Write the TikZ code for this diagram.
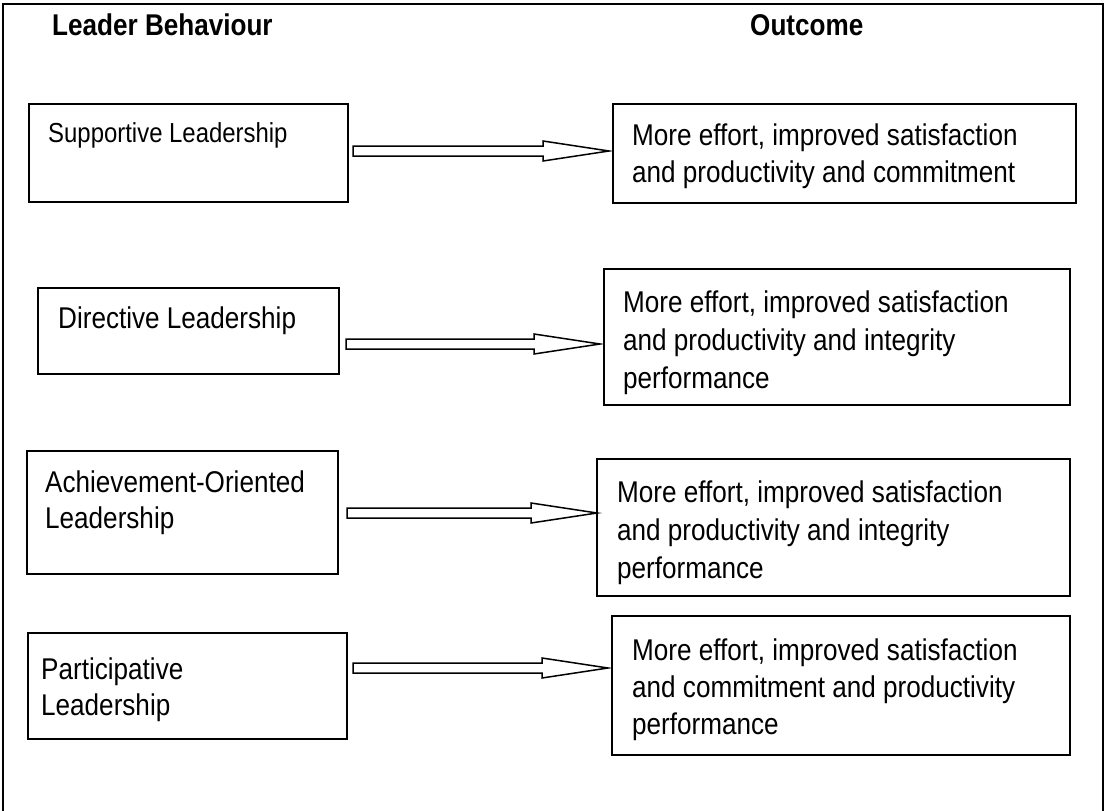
\documentclass[tikz,border=0pt]{standalone}
\usepackage{fontspec}
\setmainfont{Liberation Sans}[FakeStretch=0.87]
\usetikzlibrary{calc}
% hollow block arrow from a tail point to a tip point
\newcommand\blockarrowdraw[2]{%
  \draw[blockarrow] ($(#1)+(0,-5)$) -- ($(#2)+(-66,-5)$) -- ($(#2)+(-66,-10)$)
    -- (#2) -- ($(#2)+(-66,10)$) -- ($(#2)+(-66,5)$) -- ($(#1)+(0,5)$) -- cycle;}
\begin{document}
\begin{tikzpicture}[x=1pt,y=-1pt,
  box/.style={draw=black, line width=1.6pt, inner sep=0pt, anchor=north west},
  % multi-line texts are placed by the baseline of their last line
  boxtext/.style={anchor=base west, align=left, inner sep=0pt,
    font=\fontsize{30}{37.5}\selectfont},
  heading/.style={anchor=base west, inner sep=0pt,
    font=\bfseries\fontsize{30}{34}\selectfont},
  blockarrow/.style={draw=black, line width=1.5pt, fill=white, line join=miter}
]
\useasboundingbox (0,0) rectangle (1106,811);
% outer frame (open at the bottom)
\draw[line width=2.2pt] (3,811) -- (3,4) -- (1103,4) -- (1103,811);

% column headings
\node[heading] (hbeh) at (52,35) {Leader Behaviour};
\node[heading] (hout) at (750,35) {Outcome};

% leader behaviour boxes
\node[box, minimum width=319pt, minimum height=98pt]  (sup) at (28,103) {};
\node[box, minimum width=301pt, minimum height=86pt]  (dir) at (37,287) {};
\node[box, minimum width=311pt, minimum height=123pt] (ach) at (26,450) {};
\node[box, minimum width=319pt, minimum height=106pt] (par) at (27,632) {};

% outcome boxes
\node[box, minimum width=463pt, minimum height=99pt]  (osup) at (612,103) {};
\node[box, minimum width=466pt, minimum height=136pt] (odir) at (603,268) {};
\node[box, minimum width=473pt, minimum height=137pt] (oach) at (596,458) {};
\node[box, minimum width=458pt, minimum height=139pt] (opar) at (611,615) {};

% box texts
\node[boxtext, font=\fontsize{27.5}{35}\selectfont] (tsup) at (48,142) {Supportive Leadership};
\node[boxtext] (tdir) at (58,328) {Directive Leadership};
\node[boxtext, font=\fontsize{30}{36}\selectfont] (tach) at (45,528) {Achievement-Oriented\\Leadership};
\node[boxtext, font=\fontsize{30}{36}\selectfont] (tpar) at (41,715) {Participative\\Leadership};

\node[boxtext, font=\fontsize{30}{37}\selectfont] (tosup) at (632,182)
  {More effort, improved satisfaction\\and productivity and commitment};
\node[boxtext, font=\fontsize{30}{38}\selectfont] (todir) at (623,388)
  {More effort, improved satisfaction\\and productivity and integrity\\performance};
\node[boxtext, font=\fontsize{30}{38}\selectfont] (toach) at (617,578)
  {More effort, improved satisfaction\\and productivity and integrity\\performance};
\node[boxtext, font=\fontsize{30}{37}\selectfont] (topar) at (632,734)
  {More effort, improved satisfaction\\and commitment and productivity\\performance};

% arrow tails and tips
\coordinate (a1) at (353,151);
\coordinate (a2) at (346,344);
\coordinate (a3) at (347,513);
\coordinate (a4) at (353,668);
\coordinate (b1) at ($(osup.west |- a1)+(-3,0)$);
\coordinate (b2) at ($(odir.west |- a2)+(-3,0)$);
\coordinate (b3) at ($(oach.west |- a3)+(1,0)$);
\coordinate (b4) at ($(opar.west |- a4)+(-3,0)$);

\blockarrowdraw{a1}{b1}
\blockarrowdraw{a2}{b2}
\blockarrowdraw{a3}{b3}
\blockarrowdraw{a4}{b4}
\end{tikzpicture}
\end{document}
